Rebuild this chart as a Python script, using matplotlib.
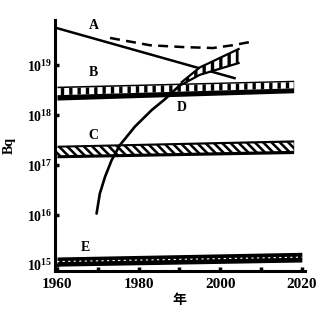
import numpy as np
import matplotlib.pyplot as plt

plt.rcParams['font.family'] = ['Liberation Serif', 'Noto Sans CJK SC']
plt.rcParams['font.weight'] = 'bold'
plt.rcParams['mathtext.fontset'] = 'custom'
plt.rcParams['mathtext.rm'] = 'Liberation Serif:bold'
plt.rcParams['mathtext.it'] = 'Liberation Serif:bold'
plt.rcParams['hatch.linewidth'] = 2.4

# A: solid and dashed curves (Bq)
a_years = [1960, 2003.5]
a_vals = [5.5e19, 5.5e18]
a2_years = [1973, 1982.8, 1990.9, 1998.2, 2003, 2007.3]
a2_vals = [3.5e19, 2.5e19, 2.3e19, 2.2e19, 2.5e19, 2.9e19]

# B, C, E: bands (low / high edges)
band_years = [1960, 2018]
b_low, b_high = [2.0e18, 2.8e18], [3.8e18, 5.0e18]
c_low, c_high = [1.4e17, 1.7e17], [2.5e17, 3.2e17]
e_years = [1960, 2020]
e_low, e_high = [9.5e14, 1.15e15], [1.45e15, 1.8e15]

# D: rising curve and its widening upper part
d_years = [1969.7, 1970.5, 1971.8, 1973.4, 1975.4, 1979.1, 1983.2, 1986.5, 1990.6]
d_vals = [1.07e16, 2.7e16, 5.9e16, 1.26e17, 2.5e17, 5.9e17, 1.26e18, 2.1e18, 4.3e18]
dl_years = [1990.6, 1995, 2004.5]
dl_upper = [4.6e18, 9.0e18, 2.1e19]
dl_lower = [4.1e18, 6.4e18, 1.1e19]

fig = plt.figure(figsize=(3.33, 3.2), dpi=100)
ax = fig.add_axes([0.165, 0.153, 0.75, 0.784])
ax.set_yscale('log')
ax.set_xlim(1959.5, 2020.7)
ax.set_ylim(10**14.88, 10**19.9)

def band(years, low, high, style):
    low = np.array(low); high = np.array(high)
    ax.fill_between(years, low, high, color='black', lw=0, zorder=2)
    g = np.log10(high / low)
    if style == 'B':
        ax.fill_between(years, low * 10**(0.35 * g), low * 10**(0.85 * g),
                        facecolor='white', edgecolor='black', hatch='||', lw=0, zorder=3)
    elif style == 'C':
        ax.fill_between(years, low * 10**(0.2 * g), low * 10**(0.8 * g),
                        facecolor='black', edgecolor='white', hatch='\\\\\\\\', lw=0, zorder=3)
    else:
        ax.plot(years, low * 10**(0.5 * g), color='white', lw=0.8,
                dashes=(2, 3), zorder=3)

band(band_years, b_low, b_high, 'B')
band(band_years, c_low, c_high, 'C')
band(e_years, e_low, e_high, 'E')

ax.plot(a_years, a_vals, color='black', lw=1.8, zorder=4)
ax.plot(a2_years, a2_vals, color='black', lw=1.8, dashes=(4, 2.5), zorder=4)

ax.plot(d_years, d_vals, color='black', lw=1.9, zorder=4, solid_capstyle='round')
ax.fill_between(dl_years, dl_lower, dl_upper, facecolor='white', edgecolor='black',
                hatch='||', lw=0, zorder=4)
ax.plot(dl_years, dl_upper, color='black', lw=1.6, zorder=5)
ax.plot(dl_years, dl_lower, color='black', lw=1.6, zorder=5)

for lbl, x, y in [('A', 1969, 10**19.8), ('B', 1969, 10**18.85), ('C', 1969, 10**17.6),
                  ('D', 1990.5, 10**18.15), ('E', 1967, 10**15.35)]:
    ax.text(x, y, lbl, ha='center', va='center', fontsize=10, fontweight='bold')

for s in ['top', 'right']:
    ax.spines[s].set_visible(False)
for s in ['left', 'bottom']:
    ax.spines[s].set_linewidth(2.2)

ax.set_xticks([1960, 1980, 2000, 2020])
ax.set_xticks([1970, 1990, 2010], minor=True)
ax.set_yticks([1e15, 1e16, 1e17, 1e18, 1e19],
              labels=[r'$10^{15}$', r'$10^{16}$', r'$10^{17}$', r'$10^{18}$', r'$10^{19}$'])
ax.yaxis.set_minor_locator(plt.NullLocator())
ax.tick_params(axis='both', which='both', direction='in', length=3, width=2.5)
ax.tick_params(axis='x', labelsize=11, pad=5)
ax.tick_params(axis='y', labelsize=10, pad=2)

ax.set_ylabel('Bq', fontsize=10, fontweight='bold', labelpad=8)
ax.set_xlabel('年', fontsize=10, fontweight='bold', labelpad=2)

fig.savefig('out.png', dpi=100)
